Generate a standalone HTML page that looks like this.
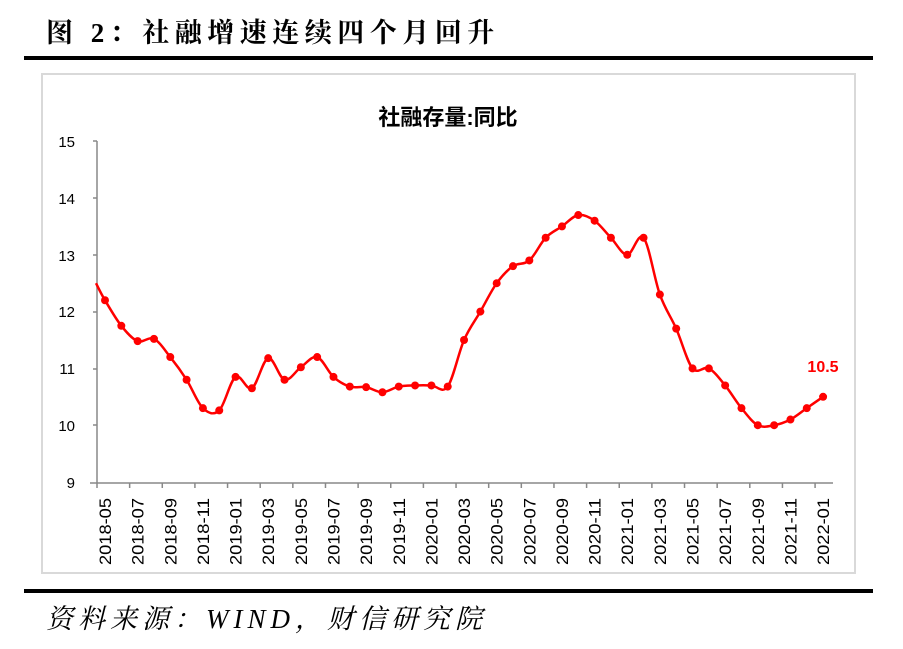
<!DOCTYPE html>
<html><head><meta charset="utf-8"><style>
body{margin:0;background:#fff;width:903px;height:649px;overflow:hidden;position:relative;font-family:"Liberation Sans","Noto Sans CJK SC",sans-serif}
.t{position:absolute;left:46px;top:11px;font-family:"Liberation Serif","Noto Serif CJK SC",serif;font-size:27px;font-weight:bold;letter-spacing:5.5px;color:#000;white-space:nowrap}
.f{position:absolute;left:46px;top:597px;font-family:"Liberation Serif","Noto Serif CJK SC",serif;font-size:27px;font-style:italic;letter-spacing:5px;color:#000;white-space:nowrap}
</style></head><body>
<div class="t">图 2：社融增速连续四个月回升</div>
<div style="position:absolute;left:24px;top:56px;width:849px;height:4px;background:#000"></div>
<div style="position:absolute;left:24px;top:589px;width:849px;height:4px;background:#000"></div>
<div class="f">资料来源：WIND，财信研究院</div>
<svg width="903" height="649" style="position:absolute;left:0;top:0">
<rect x="42" y="74" width="813" height="499" fill="none" stroke="#d9d9d9" stroke-width="2"/>
<text x="448" y="125" font-size="22" font-weight="bold" text-anchor="middle" font-family="Liberation Sans,Noto Sans CJK SC,sans-serif">社融存量:同比</text>
<g font-size="15" fill="#000" text-anchor="end" font-family="Liberation Sans,sans-serif">
<text x="75" y="147">15</text><text x="75" y="204">14</text><text x="75" y="261">13</text><text x="75" y="317">12</text><text x="75" y="374">11</text><text x="75" y="431">10</text><text x="75" y="488">9</text>
</g>
<line x1="97" y1="141" x2="97" y2="483" stroke="#888" stroke-width="1.5"/>
<line x1="93" y1="141" x2="97" y2="141" stroke="#888" stroke-width="1.5"/>
<line x1="93" y1="198" x2="97" y2="198" stroke="#888" stroke-width="1.5"/>
<line x1="93" y1="255" x2="97" y2="255" stroke="#888" stroke-width="1.5"/>
<line x1="93" y1="312" x2="97" y2="312" stroke="#888" stroke-width="1.5"/>
<line x1="93" y1="369" x2="97" y2="369" stroke="#888" stroke-width="1.5"/>
<line x1="93" y1="425" x2="97" y2="425" stroke="#888" stroke-width="1.5"/>
<line x1="90" y1="483" x2="833" y2="483" stroke="#888" stroke-width="1.5"/>
<g id="ax"></g>
<path id="ln" fill="none" stroke="#ff0000" stroke-width="2.5"/>
<g id="pts" fill="#ff0000"></g>
<text x="823" y="372" font-size="16" font-weight="bold" fill="#ff0000" text-anchor="middle" font-family="Liberation Sans,sans-serif">10.5</text>
</svg>
<script>
var v=[12.2,11.75,11.48,11.52,11.2,10.8,10.3,10.26,10.85,10.65,11.18,10.8,11.02,11.2,10.85,10.68,10.67,10.58,10.68,10.7,10.7,10.68,11.5,12.0,12.5,12.8,12.9,13.3,13.5,13.7,13.6,13.3,13.0,13.3,12.3,11.7,11.0,11.0,10.7,10.3,10.0,10.0,10.1,10.3,10.5];
function X(i){return 105+16.32*i}function Y(d){return 482-(d-9)*56.8}
var P=[[96,Y(12.5)]];v.forEach(function(d,i){P.push([X(i),Y(d)])});
var s="M"+P[0][0]+","+P[0][1];
for(var i=0;i<P.length-1;i++){var p0=P[Math.max(0,i-1)],p1=P[i],p2=P[i+1],p3=P[Math.min(P.length-1,i+2)];
s+=" C"+(p1[0]+(p2[0]-p0[0])/6)+","+(p1[1]+(p2[1]-p0[1])/6)+" "+(p2[0]-(p3[0]-p1[0])/6)+","+(p2[1]-(p3[1]-p1[1])/6)+" "+p2[0]+","+p2[1];}
document.getElementById("ln").setAttribute("d",s);
var g="";
v.forEach(function(d,i){g+='<circle cx="'+X(i)+'" cy="'+Y(d)+'" r="4"/>'});
document.getElementById("pts").innerHTML=g;
var a="",m=["2018-05","2018-07","2018-09","2018-11","2019-01","2019-03","2019-05","2019-07","2019-09","2019-11","2020-01","2020-03","2020-05","2020-07","2020-09","2020-11","2021-01","2021-03","2021-05","2021-07","2021-09","2021-11","2022-01"];
for(var k=0;k<23;k++){var tx=97+32.64*k;a+='<line x1="'+tx+'" y1="483" x2="'+tx+'" y2="488" stroke="#888" stroke-width="1.5"/>';
var lx=X(2*k)+6;a+='<text transform="translate('+lx+',565) rotate(-90)" font-size="16.5" textLength="67" lengthAdjust="spacingAndGlyphs" font-family="Liberation Sans,sans-serif">'+m[k]+'</text>';}
document.getElementById("ax").innerHTML=a;
</script>
</body></html>
